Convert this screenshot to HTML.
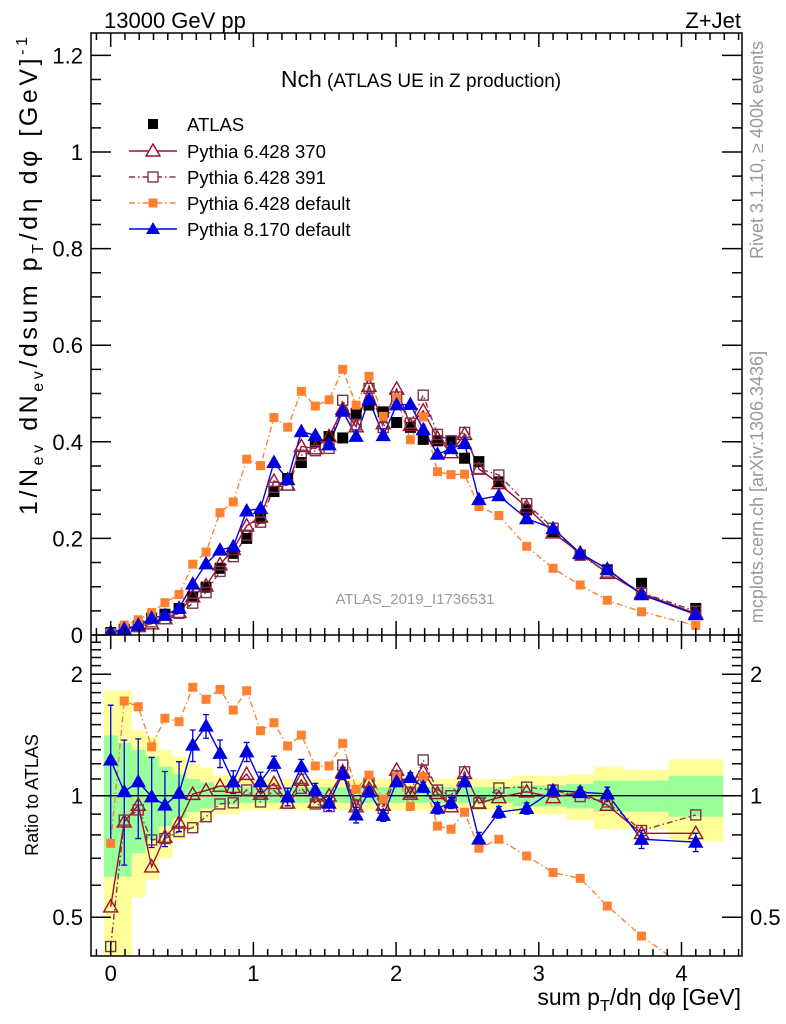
<!DOCTYPE html>
<html><head><meta charset="utf-8"><style>
body{margin:0;background:#fff}
svg{display:block;font-family:"Liberation Sans",sans-serif}
</style></head><body>
<svg id="c" width="786" height="1024" viewBox="0 0 786 1024" xmlns="http://www.w3.org/2000/svg"></svg>
<script>
// ---- data ----
const xCenters = [0,0.095,0.193,0.287,0.38,0.479,0.575,0.668,0.766,0.859,0.953,1.05,1.144,1.24,1.336,1.434,1.53,1.626,1.72,1.81,1.91,2.004,2.10,2.19,2.29,2.385,2.48,2.58,2.72,2.915,3.10,3.29,3.48,3.72,4.10];
const atlasVals = [0.005,0.012,0.019,0.035,0.043,0.055,0.079,0.099,0.138,0.169,0.200,0.242,0.297,0.324,0.357,0.400,0.411,0.408,0.459,0.476,0.462,0.440,0.430,0.405,0.402,0.402,0.366,0.359,0.317,0.259,0.214,0.166,0.135,0.107,0.055];
const ratio370 = [0.531,0.862,0.948,0.667,0.79,0.857,1.009,1.03,1.057,1.05,1.131,1.01,1.073,0.96,1.094,0.965,1.0,1.146,0.94,1.083,0.948,1.158,1.01,1.146,1.014,0.94,1.136,0.958,0.99,1.023,0.99,1.02,0.948,0.807,0.807];
const ratio391 = [0.423,0.87,0.922,0.777,0.783,0.815,0.833,0.887,0.954,0.96,1.033,0.965,1.03,0.958,1.043,0.954,0.94,1.191,0.948,1.073,0.93,1.12,1.02,1.226,1.033,1.0,1.146,0.96,1.045,1.05,1.033,0.995,0.965,0.82,0.896];
const ratioDef6 = [0.762,1.716,1.661,1.322,1.555,1.525,1.856,1.733,1.834,1.63,1.82,1.449,1.516,1.328,1.413,1.185,1.185,1.348,1.037,1.125,0.98,1.115,0.94,1.115,0.841,0.826,0.91,0.741,0.78,0.709,0.645,0.624,0.533,0.449,0.36];
const ratioP8 = [1.226,1.023,1.083,0.994,0.948,1.014,1.335,1.488,1.274,1.083,1.285,1.083,1.203,0.994,1.18,1.033,0.958,1.136,0.896,1.023,0.894,1.083,1.11,1.05,0.931,0.96,1.083,0.781,0.91,0.93,1.03,1.02,1.01,0.78,0.767];
const errP8 = [0.45,0.35,0.3,0.25,0.2,0.2,0.12,0.1,0.1,0.07,0.07,0.06,0.05,0.05,0.05,0.04,0.04,0.04,0.04,0.03,0.03,0.03,0.03,0.03,0.03,0.03,0.03,0.03,0.03,0.03,0.03,0.03,0.04,0.04,0.04];
const yellowHi = [1.82,1.82,1.45,1.40,1.30,1.25,1.20,1.17,1.12,1.12,1.10,1.10,1.10,1.10,1.10,1.10,1.10,1.10,1.10,1.10,1.10,1.10,1.10,1.10,1.10,1.10,1.10,1.10,1.10,1.12,1.12,1.13,1.18,1.16,1.23];
const yellowLo = [0.35,0.35,0.56,0.62,0.70,0.78,0.82,0.86,0.90,0.90,0.92,0.92,0.92,0.92,0.92,0.92,0.92,0.92,0.92,0.92,0.92,0.92,0.92,0.92,0.92,0.92,0.92,0.92,0.92,0.90,0.90,0.87,0.826,0.826,0.77];
const greenHi = [1.41,1.35,1.30,1.25,1.18,1.13,1.10,1.08,1.06,1.06,1.05,1.05,1.05,1.05,1.05,1.05,1.05,1.05,1.05,1.05,1.05,1.05,1.05,1.05,1.05,1.05,1.05,1.05,1.05,1.06,1.06,1.07,1.09,1.09,1.12];
const greenLo = [0.63,0.63,0.72,0.78,0.84,0.88,0.91,0.93,0.95,0.95,0.96,0.96,0.96,0.96,0.96,0.96,0.96,0.96,0.96,0.96,0.96,0.96,0.96,0.96,0.96,0.96,0.96,0.96,0.96,0.94,0.94,0.93,0.913,0.913,0.887];
const mainYTicks = [0,0.2,0.4,0.6,0.8,1,1.2];
const mainYLabels = ["0","0.2","0.4","0.6","0.8","1","1.2"];
const ratioTicks = [0.5,1,2];
const ratioLabels = ["0.5","1","2"];
const xTicks = [0,1,2,3,4];
const xLabels = ["0","1","2","3","4"];

// ---- geometry ----
const L=91,R=742,T=33,MB=635,RB=956;
const X0=110.7, XS=142.7;
const sx = v => X0 + v*XS;
const sy = v => MB - v*483;
const sr = r => 795.7 - 121.5*Math.log2(r);
const NS="http://www.w3.org/2000/svg";
const svg=document.getElementById('c');
function mk(tag,attrs,parent){const e=document.createElementNS(NS,tag);for(const k in attrs)e.setAttribute(k,attrs[k]);(parent||svg).appendChild(e);return e;}

const defs=mk('defs',{});
const c1=mk('clipPath',{id:'cm'},defs);mk('rect',{x:L,y:T,width:R-L,height:MB-T},c1);
const c2=mk('clipPath',{id:'cr'},defs);mk('rect',{x:L,y:MB,width:R-L,height:RB-MB},c2);

const edges=[];
edges.push(xCenters[0]-(xCenters[1]-xCenters[0])/2);
for(let i=0;i<xCenters.length-1;i++)edges.push((xCenters[i]+xCenters[i+1])/2);
edges.push(xCenters[xCenters.length-1]+(xCenters[xCenters.length-1]-edges[edges.length-1]));

const gR=mk('g',{'clip-path':'url(#cr)'});


for(let i=0;i<xCenters.length;i++){
  const x1=sx(edges[i]),x2=sx(edges[i+1]);
  const y=mk('rect',{x:x1,y:sr(yellowHi[i]),width:x2-x1+0.5,height:sr(yellowLo[i])-sr(yellowHi[i]),fill:'#ffff99'},gR);
  
  
}
for(let i=0;i<xCenters.length;i++){
  const x1=sx(edges[i]),x2=sx(edges[i+1]);
  const g=mk('rect',{x:x1,y:sr(greenHi[i]),width:x2-x1+0.5,height:sr(greenLo[i])-sr(greenHi[i]),fill:'#99ff99'},gR);
  
  
}
mk('line',{x1:L,x2:R,y1:sr(1),y2:sr(1),stroke:'#000','stroke-width':1.3},gR);

const series=[
 {name:'pythia-6428-370',r:ratio370,col:'#9e0f28',dash:'',mark:'tri-open'},
 {name:'pythia-6428-391',r:ratio391,col:'#7a3650',dash:'6,3,1.5,3',mark:'sq-open'},
 {name:'pythia-6428-default',r:ratioDef6,col:'#ff8030',dash:'6,3,1.5,3',mark:'sq-fill'},
 {name:'pythia-8170-default',r:ratioP8,col:'#0000e0',dash:'',mark:'tri-fill'}
];
const gM=mk('g',{'clip-path':'url(#cm)'});



function marker(kind,x,y,col,parent,name){
  let e;
  if(kind==='tri-open'||kind==='tri-fill'){
    const s=kind==='tri-open'?7:6.5;
    e=mk('polygon',{points:`${x},${y-s} ${x-s},${y+s*0.75} ${x+s},${y+s*0.75}`,fill:kind==='tri-fill'?col:'#fff','fill-opacity':kind==='tri-fill'?1:0,stroke:col,'stroke-width':1.4},parent);
  }else if(kind==='sq-open'){
    e=mk('rect',{x:x-5,y:y-5,width:10,height:10,fill:'none',stroke:col,'stroke-width':1.4},parent);
  }else if(kind==='sq-fill'){
    e=mk('rect',{x:x-4.5,y:y-4.5,width:9,height:9,fill:col},parent);
  }else{
    e=mk('rect',{x:x-5.5,y:y-5.5,width:11,height:11,fill:col},parent);
  }
  
  
}

series.forEach(s=>{
  const ptsM=xCenters.map((x,i)=>`${sx(x)},${sy(atlasVals[i]*s.r[i])}`).join(' ');
  const pl=mk('polyline',{points:ptsM,fill:'none',stroke:s.col,'stroke-width':1.4,'stroke-dasharray':s.dash},gM);
  
  
  const ptsR=xCenters.map((x,i)=>`${sx(x)},${sr(s.r[i])}`).join(' ');
  const pr=mk('polyline',{points:ptsR,fill:'none',stroke:s.col,'stroke-width':1.4,'stroke-dasharray':s.dash},gR);
  
  
});
xCenters.forEach((x,i)=>{
  const hi=sr(ratioP8[i]+errP8[i]),lo=sr(Math.max(0.3,ratioP8[i]-errP8[i]));
  const eb=mk('path',{d:`M${sx(x)},${hi}V${lo}M${sx(x)-3},${hi}h6M${sx(x)-3},${lo}h6`,stroke:'#0000e0','stroke-width':1.3,fill:'none'},gR);
  
  
});
xCenters.forEach((x,i)=>{
  marker('sq-black',sx(x),sy(atlasVals[i]),'#000',gM,'atlas-point');
});
series.forEach(s=>{
  xCenters.forEach((x,i)=>{
    marker(s.mark,sx(x),sy(atlasVals[i]*s.r[i]),s.col,gM,s.name+'-point');
    marker(s.mark,sx(x),sr(s.r[i]),s.col,gR,s.name+'-ratio-point');
  });
});

const axG=mk('g',{stroke:'#000','stroke-width':1.5,fill:'none'});


mk('rect',{x:L,y:T,width:R-L,height:RB-T},axG);
mk('line',{x1:L,x2:R,y1:MB,y2:MB},axG);
let d='';
for(let k=-1;k<=44;k++){const v=k/10;const x=sx(v);if(x<L+1||x>R-1)continue;const len=(k%10===0)?14:7;
  d+=`M${x},${MB}v${-len}M${x},${T}v${len}M${x},${MB}v${len}M${x},${RB}v${-len}`;}
for(let k=0;k<=24;k++){const v=k*0.05;const y=sy(v);const len=(k%4===0)?20:10;d+=`M${L},${y}h${len}M${R},${y}h${-len}`;}
const rmin=[0.4,0.5,0.6,0.7,0.8,0.9,1,1.1,1.2,1.3,1.4,1.5,1.6,1.7,1.8,1.9,2,2.1,2.2,2.3,2.4,2.5];
rmin.forEach(r=>{const y=sr(r);if(y<MB+1||y>RB-1)return;const len=(r===0.5||r===1||r===2)?20:10;d+=`M${L},${y}h${len}M${R},${y}h${-len}`;});
mk('path',{d:d},axG);

function txt(s,x,y,attrs,name){const e=mk('text',Object.assign({x:x,y:y,'font-size':22,fill:'#000'},attrs||{}));e.textContent=s;return e;}
mainYTicks.forEach((v,i)=>txt(mainYLabels[i],83,sy(v)+8,{'text-anchor':'end'},'y-tick-label'));
ratioTicks.forEach((v,i)=>{txt(ratioLabels[i],83,sr(v)+8,{'text-anchor':'end'},'ratio-tick-label');txt(ratioLabels[i],750,sr(v)+8,{},'ratio-tick-label-right');});
xTicks.forEach((v,i)=>txt(xLabels[i],sx(v),981,{'text-anchor':'middle'},'x-tick-label'));
</script>
<div style="position:absolute;left:0;top:0;width:786px;height:1024px;pointer-events:none">
<svg width="786" height="1024" style="position:absolute;left:0;top:0;font-family:'Liberation Sans',sans-serif">
<text x="104" y="28" font-size="22">13000 GeV pp</text>
<text x="741" y="28" font-size="22" text-anchor="end">Z+Jet</text>
<text x="421" y="87" text-anchor="middle"><tspan font-size="23">Nch</tspan><tspan font-size="19"> (ATLAS UE in Z production)</tspan></text>
<g font-size="18.5">
<rect x="148" y="119" width="10" height="10" fill="#000"/>
<text x="187" y="131">ATLAS</text>
<line x1="129" x2="177" y1="151" y2="151" stroke="#9e0f28" stroke-width="1.4"/>
<polygon points="153,144 146,156 160,156" fill="#fff" stroke="#9e0f28" stroke-width="1.4"/>
<text x="187" y="158">Pythia 6.428 370</text>
<line x1="129" x2="177" y1="177" y2="177" stroke="#7a3650" stroke-width="1.4" stroke-dasharray="6,3,1.5,3"/>
<rect x="148" y="172" width="10" height="10" fill="#fff" stroke="#7a3650" stroke-width="1.4"/>
<text x="187" y="184">Pythia 6.428 391</text>
<line x1="129" x2="177" y1="203" y2="203" stroke="#ff8030" stroke-width="1.4" stroke-dasharray="6,3,1.5,3"/>
<rect x="148.5" y="198.5" width="9" height="9" fill="#ff8030"/>
<text x="187" y="210">Pythia 6.428 default</text>
<line x1="129" x2="177" y1="229" y2="229" stroke="#0000e0" stroke-width="1.4"/>
<polygon points="153,222 146,234 160,234" fill="#0000e0"/>
<text x="187" y="236">Pythia 8.170 default</text>
</g>
<text x="415" y="604" font-size="15" fill="#999" text-anchor="middle">ATLAS_2019_I1736531</text>
<text transform="translate(37,276) rotate(-90)" font-size="25" text-anchor="middle" textLength="478" lengthAdjust="spacing">1/N<tspan font-size="16" dy="6">ev</tspan><tspan dy="-6"> dN</tspan><tspan font-size="16" dy="6">ev</tspan><tspan dy="-6">/dsum p</tspan><tspan font-size="16" dy="6">T</tspan><tspan dy="-6">/dη dφ  [GeV]</tspan><tspan font-size="16" dy="-10">-1</tspan></text>
<text transform="translate(38,795) rotate(-90)" font-size="18" text-anchor="middle">Ratio to ATLAS</text>
<text x="741" y="1005" font-size="23" text-anchor="end">sum p<tspan font-size="16" dy="6">T</tspan><tspan dy="-6">/dη dφ [GeV]</tspan></text>
<text transform="translate(763,150) rotate(-90)" font-size="18" fill="#999" text-anchor="middle">Rivet 3.1.10, ≥ 400k events</text>
<text transform="translate(763,487) rotate(-90)" font-size="18" fill="#999" text-anchor="middle">mcplots.cern.ch [arXiv:1306.3436]</text>
</svg></div>
</body></html>
